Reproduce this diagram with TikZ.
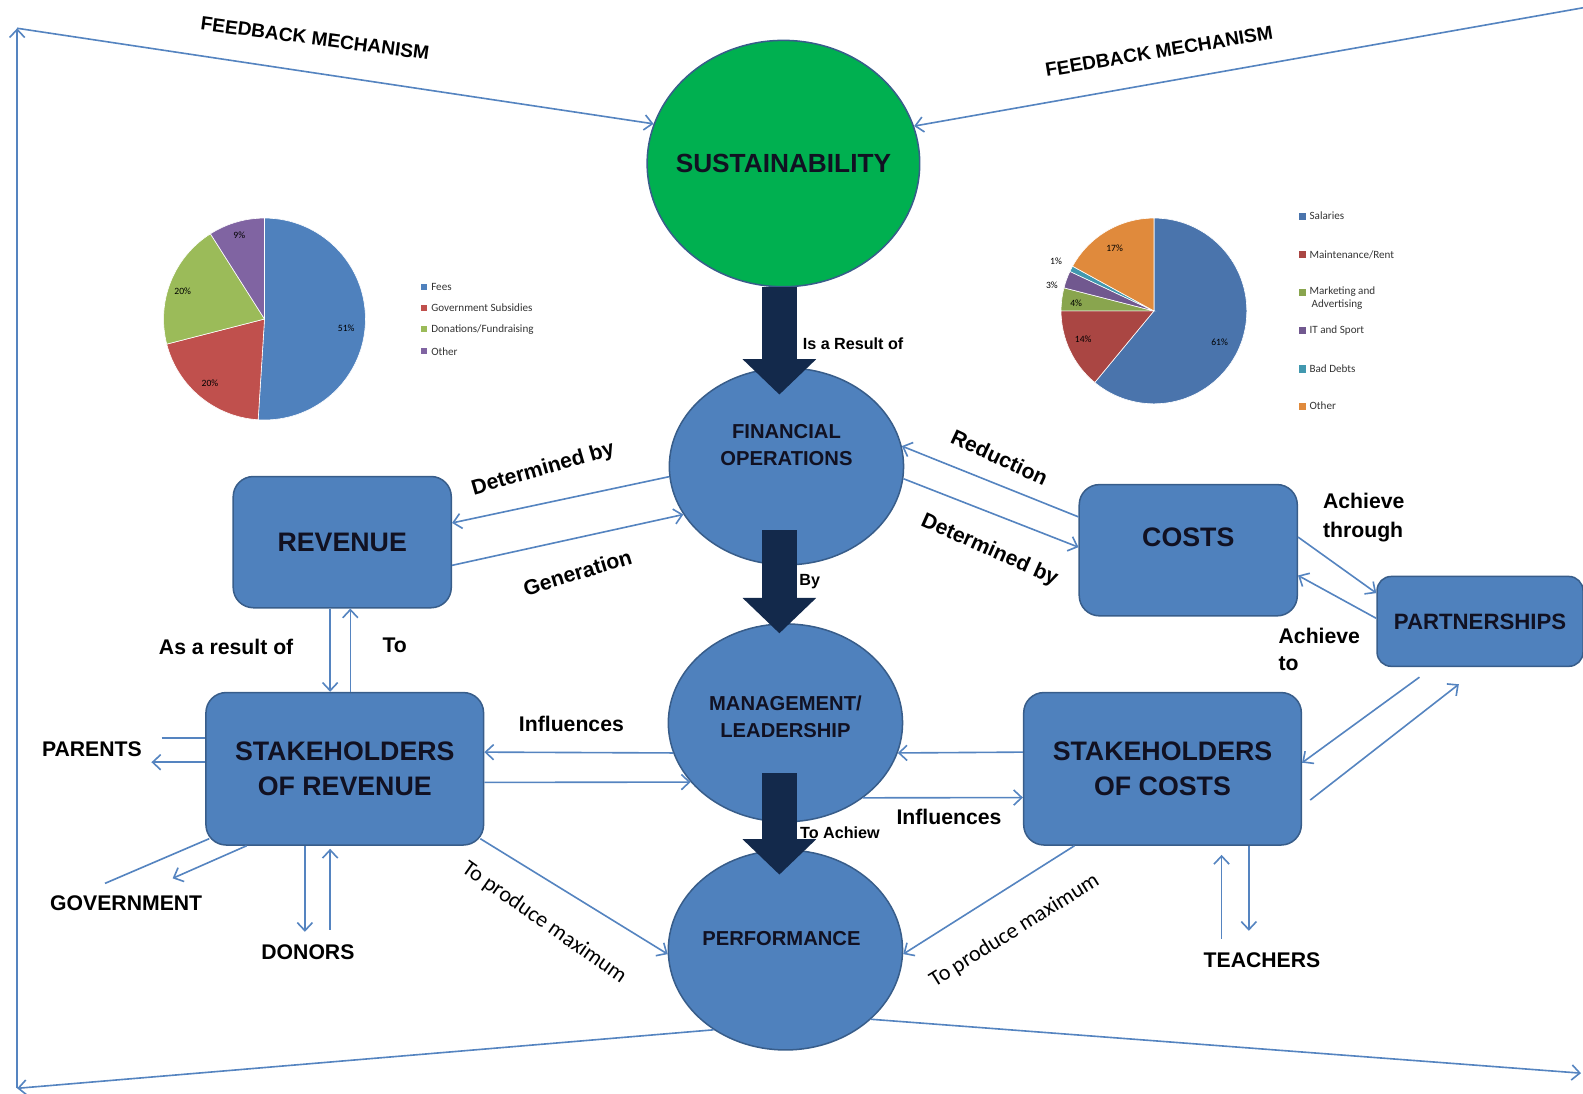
\documentclass[tikz,border=0pt]{standalone}
\usepackage{fontspec}
\setmainfont{Liberation Sans}
\newfontfamily\calibfont{Carlito}
\usepackage{tikz}
\usepackage{xcolor}
\usetikzlibrary{shapes.geometric,arrows.meta}

\definecolor{nodeblue}{HTML}{4F81BD}
\definecolor{edgeblue}{HTML}{385D8A}
\definecolor{linkblue}{HTML}{5584C0}
\definecolor{susgreen}{HTML}{00B050}
\definecolor{navy}{HTML}{13294B}
\definecolor{inktext}{HTML}{111122}
\definecolor{piered}{HTML}{C0504D}
\definecolor{piegreen}{HTML}{9BBB59}
\definecolor{piepurple}{HTML}{8064A2}
\definecolor{rblue}{HTML}{4A74AC}
\definecolor{rred}{HTML}{AA4643}
\definecolor{rgreen}{HTML}{89A54E}
\definecolor{rpurple}{HTML}{71588F}
\definecolor{rcyan}{HTML}{4198AF}
\definecolor{rorange}{HTML}{E08A3C}

\begin{document}
\begin{tikzpicture}[x=1pt,y=-1pt,
	ball/.style={ellipse,draw=edgeblue,line width=1.5pt,fill=nodeblue,inner sep=0pt},
	box/.style={rectangle,rounded corners=20pt,draw=edgeblue,line width=1.5pt,fill=nodeblue,text=inktext,align=center,font=\bfseries\fontsize{26.5}{35}\selectfont},
	balltext/.style={text=inktext,align=center,font=\bfseries\fontsize{20}{27}\selectfont},
	link/.style={draw=linkblue,line width=1.6pt,-{Straight Barb[length=8pt,width=15pt]}},
	plain/.style={draw=linkblue,line width=1.6pt},
	bigarrow/.style={draw=navy,line width=34pt,-{Triangle[length=35pt,width=73pt,line width=0pt]}},
	lbl/.style={font=\bfseries\fontsize{21}{27}\selectfont},
	smalllbl/.style={font=\bfseries\fontsize{16}{20}\selectfont},
	maxlbl/.style={font=\calibfont\fontsize{22}{26}\selectfont},
	pct/.style={font=\calibfont\fontsize{9.5}{11}\selectfont,inner sep=0pt},
	legend/.style={font=\calibfont\fontsize{11}{13}\selectfont,text=black!80,anchor=west,inner sep=0pt,align=left}]
	\useasboundingbox (0,0) rectangle (1568,1083);

	% pie of revenue
	\begin{scope}[shift={(262,316)},yscale=-1]
		\fill[nodeblue,draw=white,line width=0.6pt] (0,0) -- (90:100) arc[start angle=90,end angle=-93.6,radius=100] -- cycle;
		\fill[piered,draw=white,line width=0.6pt] (0,0) -- (-93.6:100) arc[start angle=-93.6,end angle=-165.6,radius=100] -- cycle;
		\fill[piegreen,draw=white,line width=0.6pt] (0,0) -- (-165.6:100) arc[start angle=-165.6,end angle=-237.6,radius=100] -- cycle;
		\fill[piepurple,draw=white,line width=0.6pt] (0,0) -- (-237.6:100) arc[start angle=-237.6,end angle=-270,radius=100] -- cycle;
	\end{scope}
	\node[pct] (pL51) at (343,325) {51\%};
	\node[pct] (pL20a) at (208,380) {20\%};
	\node[pct] (pL20b) at (181,289) {20\%};
	\node[pct] (pL9) at (237,233) {9\%};
	\fill[nodeblue] (417,281) rectangle (423,287);
	\fill[piered] (417,302) rectangle (423,308);
	\fill[piegreen] (417,323) rectangle (423,329);
	\fill[piepurple] (417,345) rectangle (423,351);
	\node[legend] (lgFees) at (427,284) {Fees};
	\node[legend] (lgGov) at (427,305) {Government Subsidies};
	\node[legend] (lgDon) at (427,326) {Donations/Fundraising};
	\node[legend] (lgOthL) at (427,348) {Other};

	% pie of costs
	\begin{scope}[shift={(1143,308)},yscale=-1]
		\fill[rblue,draw=white,line width=0.6pt] (0,0) -- (90:92) arc[start angle=90,end angle=-129.6,radius=92] -- cycle;
		\fill[rred,draw=white,line width=0.6pt] (0,0) -- (-129.6:92) arc[start angle=-129.6,end angle=-180,radius=92] -- cycle;
		\fill[rgreen,draw=white,line width=0.6pt] (0,0) -- (-180:92) arc[start angle=-180,end angle=-194.4,radius=92] -- cycle;
		\fill[rpurple,draw=white,line width=0.6pt] (0,0) -- (-194.4:92) arc[start angle=-194.4,end angle=-205.2,radius=92] -- cycle;
		\fill[rcyan,draw=white,line width=0.6pt] (0,0) -- (-205.2:92) arc[start angle=-205.2,end angle=-208.8,radius=92] -- cycle;
		\fill[rorange,draw=white,line width=0.6pt] (0,0) -- (-208.8:92) arc[start angle=-208.8,end angle=-270,radius=92] -- cycle;
	\end{scope}
	\node[pct] (pR61) at (1208,339) {61\%};
	\node[pct] (pR14) at (1073,336) {14\%};
	\node[pct] (pR4) at (1066,300) {4\%};
	\node[pct] (pR3) at (1042,283) {3\%};
	\node[pct] (pR1) at (1046,259) {1\%};
	\node[pct] (pR17) at (1104,246) {17\%};
	\fill[rblue] (1287,211) rectangle (1294,218);
	\fill[rred] (1287,249) rectangle (1294,256);
	\fill[rgreen] (1287,286) rectangle (1294,293);
	\fill[rpurple] (1287,324) rectangle (1294,331);
	\fill[rcyan] (1287,362) rectangle (1294,369);
	\fill[rorange] (1287,399) rectangle (1294,406);
	\node[legend] (lgSal) at (1297,214) {Salaries};
	\node[legend] (lgMnt) at (1297,252) {Maintenance/Rent};
	\node[legend] (lgMkt) at (1297,295) {Marketing and\\\hspace*{2pt}Advertising};
	\node[legend] (lgIT) at (1297,327) {IT and Sport};
	\node[legend] (lgBad) at (1297,365) {Bad Debts};
	\node[legend] (lgOthR) at (1297,402) {Other};

	% main nodes
	\node[ball,fill=susgreen,minimum width=270pt,minimum height=244pt] (sus) at (776,162) {};
	\node[ball,minimum width=232pt,minimum height=195pt] (fin) at (779,462) {};
	\node[ball,minimum width=232pt,minimum height=196pt] (mgmt) at (778,716) {};
	\node[ball,minimum width=232pt,minimum height=198pt] (perf) at (778,941) {};
	\node[box,minimum width=216pt,minimum height=130pt] (rev) at (339,537) {REVENUE};
	\node[box,minimum width=216pt,minimum height=130pt] (costs) at (1177,545) {};
	\node[box,minimum width=204pt,minimum height=89pt,rounded corners=14pt,font=\bfseries\fontsize{22}{26}\selectfont] (part) at (1466,615.5) {PARTNERSHIPS};
	\node[box,minimum width=275pt,minimum height=151pt] (sor) at (341.5,761.5) {STAKEHOLDERS\\OF REVENUE};
	\node[box,minimum width=275pt,minimum height=151pt] (soc) at (1151.5,761.5) {STAKEHOLDERS\\OF COSTS};

	% thick arrows
	\draw[bigarrow] ([xshift=-4pt]sus.south) -- ([xshift=-7pt,yshift=-27pt]fin.north);
	\draw[bigarrow] ([xshift=-7pt,yshift=35pt]fin.south) -- ([xshift=-6pt,yshift=-10pt]mgmt.north);
	\draw[bigarrow] ([xshift=-6pt,yshift=49pt]mgmt.south) -- ([xshift=-6pt,yshift=-25pt]perf.north);

	\node[balltext,font=\bfseries\fontsize{26}{30}\selectfont] (susTxt) at (sus) {SUSTAINABILITY};
	\node[balltext] (finTxt) at (779,441) {FINANCIAL\\OPERATIONS};
	\node[balltext] (mgmtTxt) at (778,710) {MANAGEMENT/\\LEADERSHIP};
	\node[balltext] (perfTxt) at (774,930) {PERFORMANCE};
	\node[text=inktext,font=\bfseries\fontsize{26.5}{35}\selectfont] (costsTxt) at ([yshift=13pt]costs.center) {COSTS};

	% outside nodes
	\node[lbl] (parents) at (91,742) {PARENTS};
	\node[lbl] (govt) at (125,895) {GOVERNMENT};
	\node[lbl] (donors) at (305,943) {DONORS};
	\node[lbl] (teach) at (1250,951) {TEACHERS};

	\coordinate (pa1) at (160,731);
	\coordinate (pa2) at (150,755);
	\coordinate (go1) at (104,875);
	\coordinate (go2) at (171,870);
	\coordinate (d1) at (302,923);
	\coordinate (d2) at (327,921);
	\coordinate (t1) at (1210,930);
	\coordinate (t2) at (1237,922);
	\coordinate (asr) at ([xshift=-12pt]rev.south);
	\coordinate (tor) at ([xshift=8pt]rev.south);
	\coordinate (fbTL) at (17,28);
	\coordinate (fbBL) at (17,1078);
	\coordinate (fbBR) at (1566,1063);
	\coordinate (fbTR) at (1572,7);

	% connectors
	\draw[link] (fin.185) -- ([yshift=19pt]rev.east);
	\draw[link] ([yshift=-23pt]rev.east) -- (fin.205);
	\draw[link] ([yshift=33pt]costs.west) -- (fin.10);
	\draw[link] (fin.354) -- ([yshift=3pt]costs.west);
	\draw[link] ([yshift=13pt]costs.east) -- ([yshift=28pt]part.west);
	\draw[link] ([yshift=3pt]part.west) -- ([yshift=-25pt]costs.east);
	\draw[link] ([xshift=-60pt,yshift=-10pt]part.south) -- ([yshift=6pt]soc.east);
	\draw[link] ([xshift=8pt,yshift=-31pt]soc.east) -- ([xshift=-21pt,yshift=-17pt]part.south);
	\draw[link,shorten >=9pt] (t1) -- (t1 |- soc.south);
	\draw[link] (t2 |- soc.south) -- (t2);
	\draw[link] (mgmt.195) -- ([yshift=16.5pt]sor.east);
	\draw[link] ([yshift=-13.5pt]sor.east) -- (mgmt.212);
	\draw[link] ([yshift=16.5pt]soc.west) -- (mgmt.345);
	\draw[link] (mgmt.316) -- ([yshift=-28.5pt]soc.west);
	\draw[link] (asr) -- (asr |- sor.north);
	\draw[link] (tor |- sor.north) -- (tor);
	\draw[plain] (pa1) -- (pa1 -| sor.west);
	\draw[link] (pa2 -| sor.west) -- (pa2);
	\draw[plain] (go1) -- ([xshift=4pt,yshift=7pt]sor.south west);
	\draw[link] ([xshift=41pt]sor.south west) -- (go2);
	\draw[link] (d1 |- sor.south) -- (d1);
	\draw[link,shorten >=3pt] (d2) -- (d2 |- sor.south);
	\draw[link] ([xshift=-4pt,yshift=7pt]sor.south east) -- (perf.182);
	\draw[link] ([xshift=51pt]soc.south west) -- (perf.358);
	\draw[link] (perf.228) -- (fbBL);
	\draw[link] (fbBL) -- (fbTL);
	\draw[link] (fbTL) -- (sus.163);
	\draw[link] (perf.321) -- (fbBR);
	\draw[link] (fbTR) -- (sus.16);

	% labels
	\node[lbl,rotate=-7.5,font=\bfseries\fontsize{19}{23}\selectfont] (fbL) at (312,38) {FEEDBACK MECHANISM};
	\node[lbl,rotate=9.5,font=\bfseries\fontsize{19}{23}\selectfont] (fbR) at (1148,51) {FEEDBACK MECHANISM};
	\node[smalllbl] (isRes) at (845,340) {Is a Result of};
	\node[smalllbl] (by) at (802,576) {By};
	\node[smalllbl] (toAch) at (832,825) {To Achiew};
	\node[lbl,rotate=16] (detA) at (538,465) {Determined by};
	\node[lbl,rotate=17] (gen) at (572,567) {Generation};
	\node[lbl,rotate=-25] (red) at (990,453) {Reduction};
	\node[lbl,rotate=-24] (detB) at (980,545) {Determined by};
	\node[lbl,align=left,anchor=west,font=\bfseries\fontsize{21}{29}\selectfont] (achThr) at (1307,513) {Achieve\\through};
	\node[lbl,align=left,anchor=west] (achTo) at (1263,643) {Achieve\\to};
	\node[lbl] (asRes) at (224,641) {As a result of};
	\node[lbl] (toRev) at (391,639) {To};
	\node[lbl] (inflL) at (566,717) {Influences};
	\node[lbl] (inflR) at (940,809) {Influences};
	\node[maxlbl,rotate=-35] (maxL) at (539,914) {To produce maximum};
	\node[maxlbl,rotate=32] (maxR) at (1005,922) {To produce maximum};
\end{tikzpicture}
\end{document}
